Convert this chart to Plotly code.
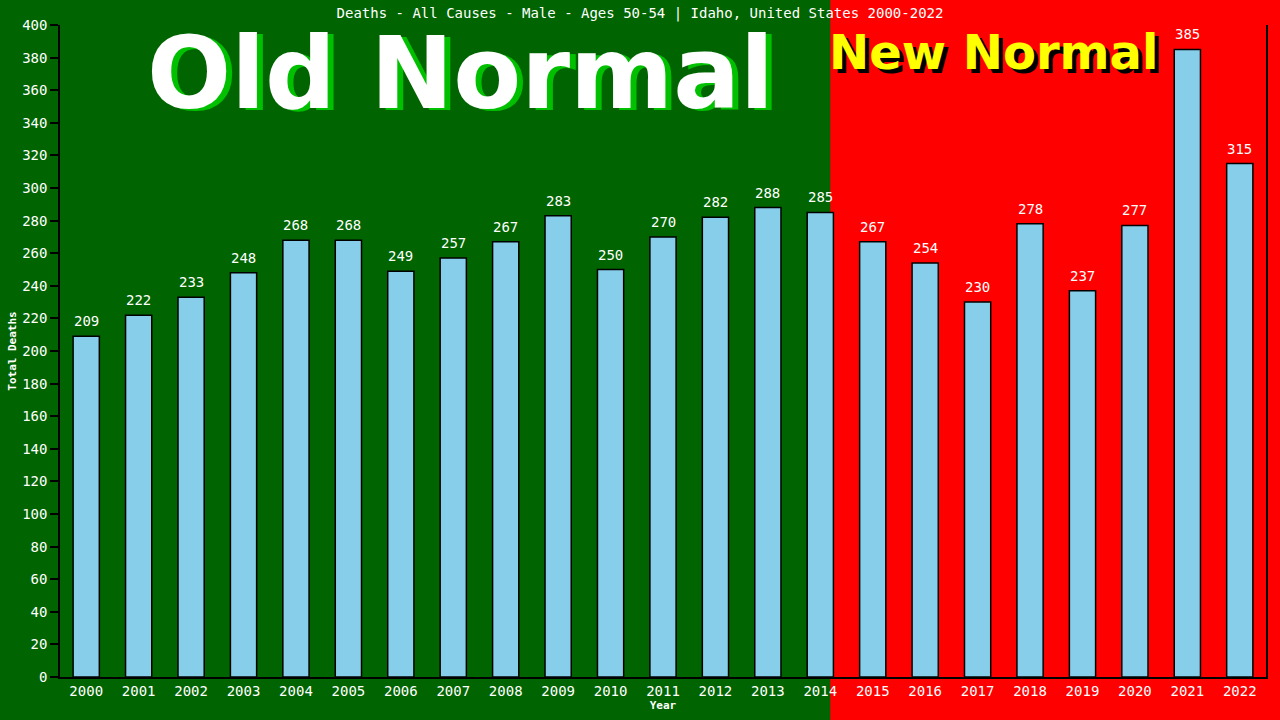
import plotly.graph_objects as go

years = ['2000', '2001', '2002', '2003', '2004', '2005', '2006', '2007', '2008', '2009', '2010', '2011',
         '2012', '2013', '2014', '2015', '2016', '2017', '2018', '2019', '2020', '2021', '2022']
deaths = [209, 222, 233, 248, 268, 268, 249, 257, 267, 283, 250, 270,
          282, 288, 285, 267, 254, 230, 278, 237, 277, 385, 315]

mono = 'DejaVu Sans Mono'
split_at = 14.19  # red "new normal" zone starts just before end of 2014 bar

bars = go.Bar(
    x=years,
    y=deaths,
    width=0.5,
    marker=dict(color='#87CEEB', line=dict(color='black', width=1.5)),
    hoverinfo='skip',
)

# value labels above each bar (category index as x, so numeric-looking years aren't misread)
labels = [dict(x=i, y=v, text=str(v), xref='x', yref='y', yanchor='bottom', yshift=5,
               showarrow=False, font=dict(family=mono, size=14, color='white'))
          for i, v in enumerate(deaths)]

big = [
    dict(text='<b>Old Normal</b>', xref='paper', yref='paper', x=0.332, y=0.925, xshift=6, yshift=-2,
         xanchor='center', yanchor='middle', showarrow=False,
         font=dict(family='DejaVu Sans', size=99, color='#00C000')),
    dict(text='<b>Old Normal</b>', xref='paper', yref='paper', x=0.332, y=0.925,
         xanchor='center', yanchor='middle', showarrow=False,
         font=dict(family='DejaVu Sans', size=99, color='white')),
    dict(text='<b>New Normal</b>', xref='paper', yref='paper', x=0.774, y=0.959, xshift=4, yshift=-4,
         xanchor='center', yanchor='middle', showarrow=False,
         font=dict(family='DejaVu Sans', size=48, color='black')),
    dict(text='<b>New Normal</b>', xref='paper', yref='paper', x=0.774, y=0.959,
         xanchor='center', yanchor='middle', showarrow=False,
         font=dict(family='DejaVu Sans', size=48, color='#FFFF00')),
]

mlayout = dict(
    width=1280, height=720,
    margin=dict(l=60, r=14, t=25, b=43),
    paper_bgcolor='#006400',
    plot_bgcolor='rgba(0,0,0,0)',
    showlegend=False,
    title=dict(text='Deaths - All Causes - Male - Ages 50-54 | Idaho, United States 2000-2022',
               x=0.5, xanchor='center', y=0.982, yanchor='middle',
               font=dict(family=mono, size=14, color='white')),
    xaxis=dict(type='category', automargin=False,
               title=dict(text='<b>Year</b>', font=dict(family=mono, size=11, color='white'), standoff=3),
               showline=True, linecolor='black', linewidth=1.5, ticks='',
               tickfont=dict(family=mono, size=14, color='white'), showgrid=False),
    yaxis=dict(automargin=False,
               title=dict(text='<b>Total Deaths</b>', font=dict(family=mono, size=11, color='white'), standoff=3),
               range=[0, 400], dtick=20, showline=True, mirror=True, linecolor='black', linewidth=1.5,
               ticks='outside', ticklen=8, tickcolor='black', tickwidth=1.5,
               tickfont=dict(family=mono, size=14, color='white'), showgrid=False, zeroline=False),
    shapes=[dict(type='rect', xref='paper', yref='paper',
                 x0=(split_at + 0.5) / len(years), x1=1.1, y0=-0.2, y1=1.1,
                 fillcolor='#FF0000', line=dict(width=0), layer='below')],
    annotations=big + labels,
)

fig = go.Figure(data=[bars], layout=mlayout)
fig.write_html('out.html', config={'displayModeBar': False},
               post_script="document.body.style.margin='0';")
